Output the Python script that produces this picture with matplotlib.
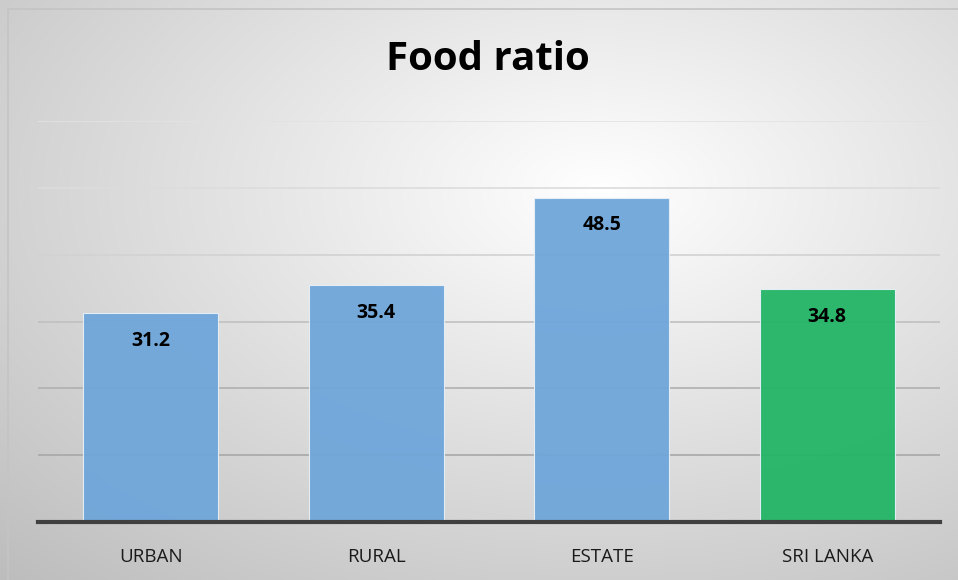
import matplotlib.pyplot as plt
import numpy as np

categories = ['URBAN', 'RURAL', 'ESTATE', 'SRI LANKA']
food_ratio = [31.2, 35.4, 48.5, 34.8]
bar_colors = ['#6fa6da', '#6fa6da', '#6fa6da', '#22b566']


def radial_background(fig):
    """Soft white-to-grey radial gradient behind the whole chart"""
    bg = fig.add_axes([0, 0, 1, 1], zorder=-10)
    h, w = 580, 958
    yy, xx = np.mgrid[0:h, 0:w]
    cx, cy = 600, 190
    r = np.sqrt(((xx - cx) / w) ** 2 + ((yy - cy) / h) ** 2)
    r = r / r.max()
    shade = 1.0 - 0.26 * r
    img = np.dstack([shade, shade, shade])
    bg.imshow(img, aspect='auto', extent=[0, 1, 0, 1], origin='upper')
    bg.plot([0.008, 0.008, 1.0], [0.0, 0.985, 0.985], color='#c4c4c4',
            lw=1.2, transform=bg.transAxes)
    bg.set_xlim(0, 1)
    bg.set_ylim(0, 1)
    bg.axis('off')


fig = plt.figure(figsize=(9.58, 5.80), dpi=100)
radial_background(fig)

ax = fig.add_axes([38 / 958, 1 - 522 / 580, 902 / 958, 401 / 580])
ax.patch.set_alpha(0)

x = np.arange(len(categories))
bars = ax.bar(x, food_ratio, width=0.6, color=bar_colors, alpha=0.95,
              edgecolor='#e8f0f8', linewidth=0.8, zorder=2)

for xi, v in zip(x, food_ratio):
    ax.text(xi, v - 4.1, f'{v}', ha='center', va='center',
            fontsize=14, fontweight='bold', color='black', zorder=3,
            family='Open Sans')

ax.set_xlim(-0.5, 3.5)
ax.set_ylim(0, 60)

# gridlines fade out towards the top of the plot
grid_levels = np.arange(10, 61, 10)
grid_shades = ['#a8a8a8', '#b0b0b0', '#c0c0c0', '#d2d2d2', '#dcdcdc', '#e2e2e2']
for lvl, shade in zip(grid_levels, grid_shades):
    ax.axhline(lvl, color=shade, linewidth=1.2, zorder=1)

ax.set_yticks([])
ax.tick_params(axis='x', bottom=False, pad=15)
ax.set_xticks(x)
ax.set_xticklabels(categories, fontsize=13.5, family='Open Sans', color='#1a1a1a')
for s in ['top', 'right', 'left']:
    ax.spines[s].set_visible(False)
ax.spines['bottom'].set_color('#404040')
ax.spines['bottom'].set_linewidth(3)
ax.spines['bottom'].set_zorder(4)

fig.text(488 / 958, 1 - 60 / 580, 'Food ratio', ha='center', va='center',
         fontsize=29, fontweight='bold', family='Open Sans')

plt.savefig('out.png', dpi=100)
